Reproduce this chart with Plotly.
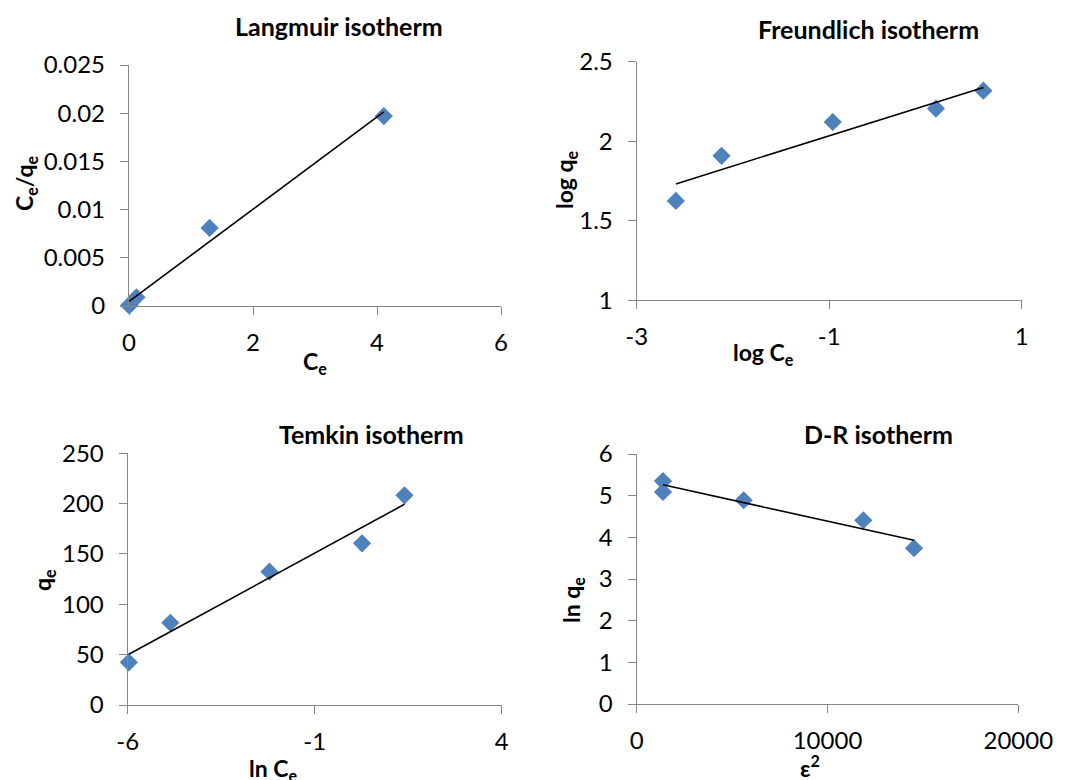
import numpy as np
import plotly.graph_objects as go

# ---- data ----
lang_Ce = [0.0026, 0.0076, 0.12, 1.30, 4.11]
lang_Ce_qe = [0.00006, 0.0001, 0.0009, 0.0081, 0.0197]

freu_logCe = [-2.593, -2.119, -0.963, 0.109, 0.602]
freu_logqe = [1.625, 1.908, 2.121, 2.205, 2.318]

temk_lnCe = [-5.97, -4.86, -2.21, 0.265, 1.40]
temk_qe = [42.4, 81.7, 132.4, 160.6, 208.3]

dr_eps2 = [1378, 1378, 5608, 11877, 14534]
dr_lnqe = [5.35, 5.09, 4.89, 4.41, 3.74]

# tick labels
x_ticks = [[0, 2, 4, 6], [-3, -1, 1], [-6, -1, 4], [0, 10000, 20000]]
x_ticktext = [["0", "2", "4", "6"], ["-3", "-1", "1"], ["-6", "-1", "4"], ["0", "10000", "20000"]]
y_ticks = [[0, 0.005, 0.01, 0.015, 0.02, 0.025], [1, 1.5, 2, 2.5],
           [0, 50, 100, 150, 200, 250], [0, 1, 2, 3, 4, 5, 6]]
y_ticktext = [["0", "0.005", "0.01", "0.015", "0.02", "0.025"], ["1", "1.5", "2", "2.5"],
              ["0", "50", "100", "150", "200", "250"], ["0", "1", "2", "3", "4", "5", "6"]]

titles = ["Langmuir isotherm", "Freundlich isotherm", "Temkin isotherm", "D-R isotherm"]
xtitles = ["C<sub>e</sub>", "log C<sub>e</sub>", "ln C<sub>e</sub>", "ε<sup>2</sup>"]
ytitles = ["C<sub>e</sub>/q<sub>e</sub>", "log q<sub>e</sub>", "q<sub>e</sub>", "ln q<sub>e</sub>"]

W, H = 1070, 780
FONT = "Lato"
MARK = "#4F81BD"
AXC = "#868686"

series = [(lang_Ce, lang_Ce_qe), (freu_logCe, freu_logqe), (temk_lnCe, temk_qe), (dr_eps2, dr_lnqe)]

# plot-area boxes in pixels (x0, x1, ytop, ybottom)
boxes = [(129, 501, 65, 306), (636.7, 1021.7, 61.7, 300.3),
         (127.7, 501.7, 453.3, 705), (636.7, 1018.3, 454, 704)]
xranges = [[0, 6], [-3, 1], [-6, 4], [0, 20000]]
yranges = [[0, 0.025], [1, 2.5], [0, 250], [0, 6]]

# title / axis-title pixel positions
title_pos = [(339, 26), (868, 29), (371, 434), (878, 434)]
xt_pos = [(315, 362), (763, 354), (273, 769), (810, 766)]
yt_pos = [(25, 183), (565, 180), (43, 580), (572, 600)]

fig = go.Figure()
ann = []
layout = {}
for i in range(4):
    n = "" if i == 0 else str(i + 1)
    xs, ys = series[i]
    xa, ya = "x" + n, "y" + n
    fig.add_trace(go.Scatter(x=xs, y=ys, mode="markers", xaxis=xa, yaxis=ya,
                             marker=dict(symbol="diamond", size=14, color=MARK),
                             cliponaxis=False, showlegend=False))
    k, b = np.polyfit(xs, ys, 1)
    lx = np.array([min(xs), max(xs)])
    fig.add_trace(go.Scatter(x=lx, y=k * lx + b, mode="lines", xaxis=xa, yaxis=ya,
                             line=dict(color="black", width=1.6),
                             cliponaxis=False, showlegend=False))
    x0, x1, yt, yb = boxes[i]
    common = dict(showgrid=False, zeroline=False, showline=True, linecolor=AXC, linewidth=1.3,
                  ticks="outside", ticklen=8, tickcolor=AXC, tickwidth=1.3, automargin=False,
                  tickmode="array", tickfont=dict(family=FONT, size=24, color="black"))
    layout["xaxis" + n] = dict(domain=[x0 / W, x1 / W], range=xranges[i], anchor=ya,
                               tickvals=x_ticks[i], ticktext=x_ticktext[i],
                               ticklabelstandoff=7, **common)
    layout["yaxis" + n] = dict(domain=[1 - yb / H, 1 - yt / H], range=yranges[i], anchor=xa,
                               tickvals=y_ticks[i], ticktext=y_ticktext[i],
                               ticklabelstandoff=10, **common)
    tx, ty = title_pos[i]
    ann.append(dict(text="<b>" + titles[i] + "</b>", x=tx / W, y=1 - ty / H, xref="paper", yref="paper",
                    showarrow=False, font=dict(family=FONT, size=25, color="black"),
                    xanchor="center", yanchor="middle"))
    ax_, ay_ = xt_pos[i]
    ann.append(dict(text="<b>" + xtitles[i] + "</b>", x=ax_ / W, y=1 - ay_ / H, xref="paper", yref="paper",
                    showarrow=False, font=dict(family=FONT, size=23, color="black"),
                    xanchor="center", yanchor="middle"))
    bx, by = yt_pos[i]
    ann.append(dict(text="<b>" + ytitles[i] + "</b>", x=bx / W, y=1 - by / H, xref="paper", yref="paper",
                    showarrow=False, textangle=-90, font=dict(family=FONT, size=23, color="black"),
                    xanchor="center", yanchor="middle"))

fig.update_layout(width=W, height=H, margin=dict(l=0, r=0, t=0, b=0),
                  plot_bgcolor="white", paper_bgcolor="white", template="none",
                  annotations=ann, **layout)
fig.write_html("out.html")
